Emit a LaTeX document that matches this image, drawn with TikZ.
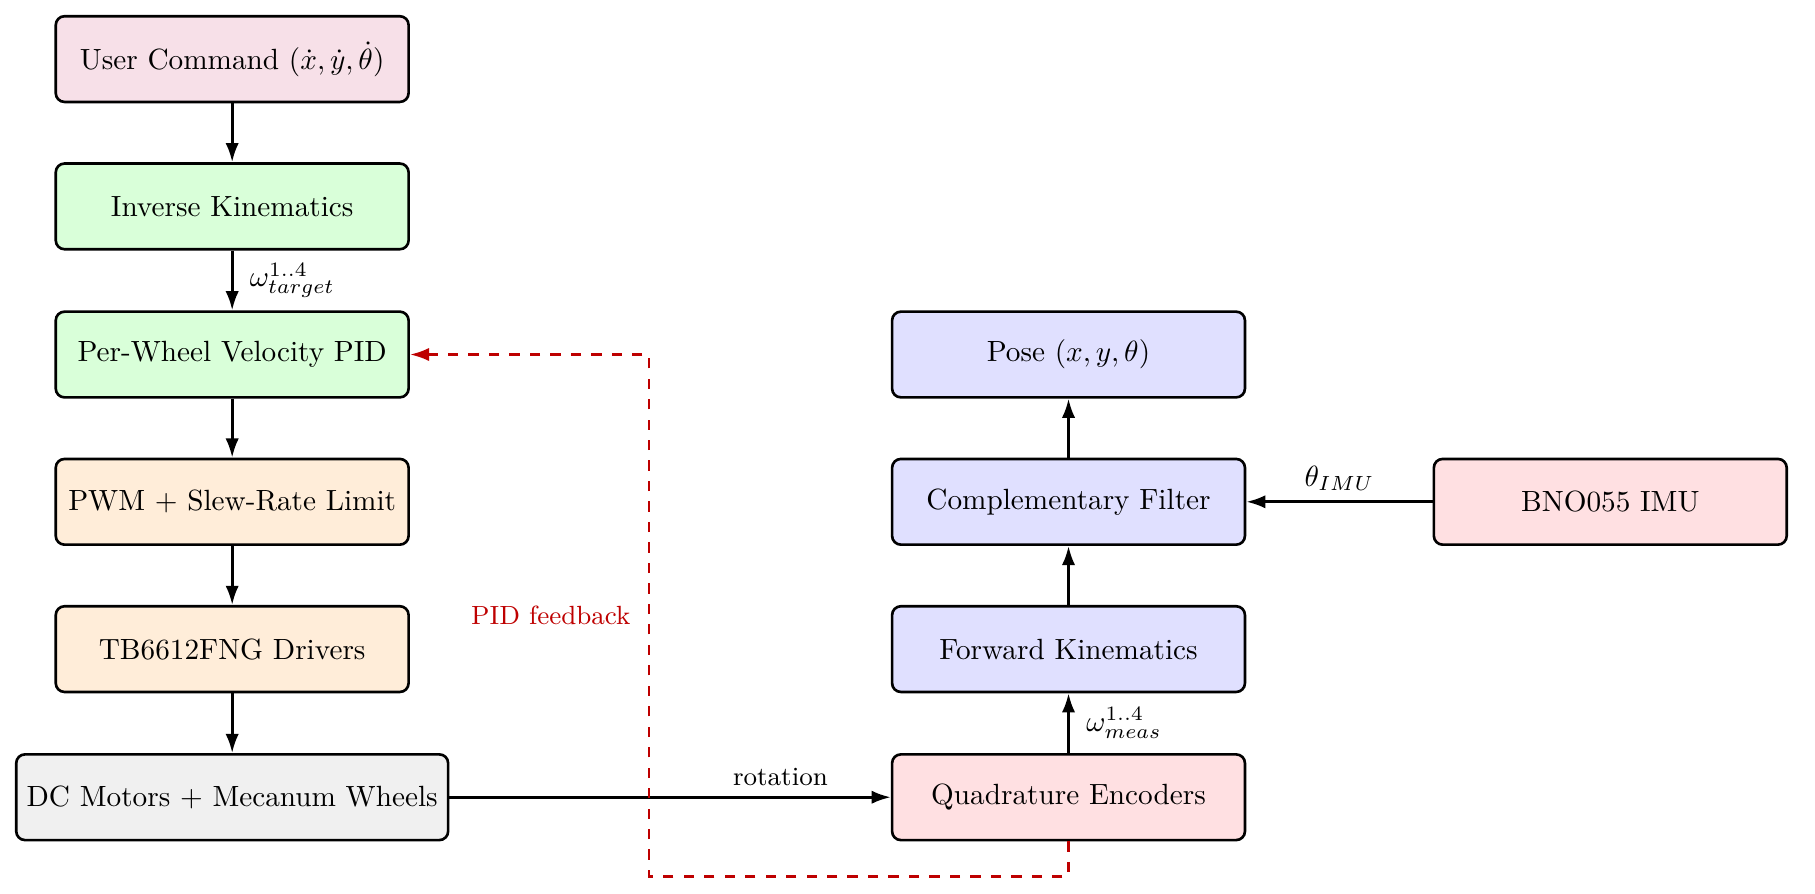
\documentclass[tikz,border=0pt]{standalone}
\usepackage{amsmath}
\usetikzlibrary{arrows.meta}

\definecolor{cmdpink}{RGB}{247,224,232}
\definecolor{ctrlgreen}{RGB}{217,255,217}
\definecolor{drvorange}{RGB}{255,237,217}
\definecolor{motgray}{RGB}{240,240,240}
\definecolor{estblue}{RGB}{224,224,255}
\definecolor{senred}{RGB}{255,224,226}
\definecolor{fbred}{RGB}{190,0,0}

\begin{document}
\begin{tikzpicture}[
  blk/.style={draw, line width=0.9pt, rounded corners=3pt, minimum width=4.24cm, minimum height=1.03cm, align=center},
  flow/.style={line width=0.95pt, -{Latex[length=2.3mm,width=1.6mm]}},
  fb/.style={line width=0.95pt, dash pattern=on 3.5pt off 3.5pt, fbred, -{Latex[length=2.3mm,width=1.6mm]}},
  lbl/.style={font=\small},
  sym/.style={right, xshift=0.8mm}
]
\useasboundingbox (0,0) rectangle (21.81,-10.74);

% control chain
\node[blk, fill=cmdpink]   (cmd) at (2.79,-0.71) {User Command $(\dot{x},\dot{y},\dot{\theta})$};
\node[blk, fill=ctrlgreen] (ik)  at (2.79,-2.48) {Inverse Kinematics};
\node[blk, fill=ctrlgreen] (pid) at (2.79,-4.26) {Per-Wheel Velocity PID};
\node[blk, fill=drvorange] (pwm) at (2.79,-6.03) {PWM + Slew-Rate Limit};
\node[blk, fill=drvorange] (drv) at (2.79,-7.80) {TB6612FNG Drivers};
\node[blk, fill=motgray, minimum width=5.19cm] (mot) at (2.79,-9.58) {DC Motors + Mecanum Wheels};

% estimation chain
\node[blk, fill=senred]  (enc)  at (12.84,-9.58) {Quadrature Encoders};
\node[blk, fill=estblue] (fk)   at (12.84,-7.80) {Forward Kinematics};
\node[blk, fill=estblue] (cf)   at (12.84,-6.03) {Complementary Filter};
\node[blk, fill=estblue] (pose) at (12.84,-4.26) {Pose $(x,y,\theta)$};
\node[blk, fill=senred]  (imu)  at (19.35,-6.03) {BNO055 IMU};
\coordinate (fbturn) at (7.80,-10.53);

\draw[flow] (cmd) -- (ik);
\draw[flow] (ik) -- node[sym] {$\omega_{target}^{1..4}$} (pid);
\draw[flow] (pid) -- (pwm);
\draw[flow] (pwm) -- (drv);
\draw[flow] (drv) -- (mot);
\draw[flow] (mot) -- node[pos=0.75, above, lbl] {rotation} (enc);
\draw[flow] (enc) -- node[sym] {$\omega_{meas}^{1..4}$} (fk);
\draw[flow] (fk) -- (cf);
\draw[flow] (cf) -- (pose);
\draw[flow] (imu) -- node[above] {$\theta_{IMU}$} (cf);
\draw[fb] (enc.south) |- (fbturn) |- node[pos=0.25, left, xshift=-0.9mm, lbl, fbred] {PID feedback} (pid.east);
\end{tikzpicture}
\end{document}
